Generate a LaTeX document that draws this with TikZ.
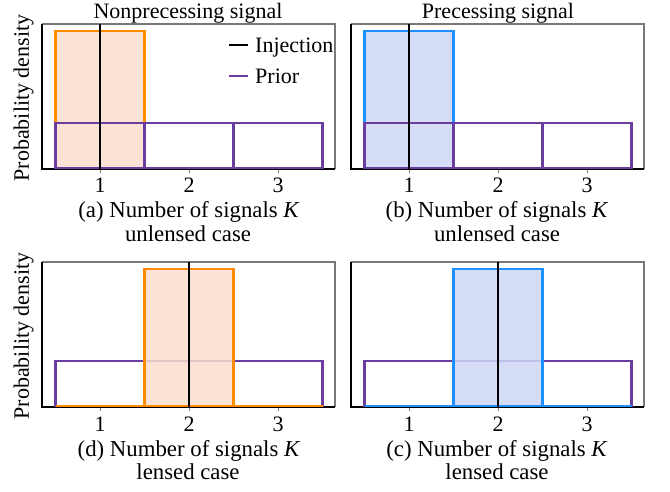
\documentclass[tikz,border=0pt]{standalone}
\usepackage{fontspec}
\setmainfont{Liberation Serif}
\newfontfamily\figfont{Liberation Serif}
\definecolor{postorange}{RGB}{255,140,0}
\definecolor{orangefill}{RGB}{249,222,204}
\definecolor{postblue}{RGB}{30,144,255}
\definecolor{bluefill}{RGB}{205,214,244}
\definecolor{priorpurple}{RGB}{106,61,160}
\definecolor{spinegray}{RGB}{120,120,120}
\tikzset{
  lbl/.style={font=\figfont\fontsize{22}{24}\selectfont, inner sep=0pt},
  captext/.style={font=\figfont\fontsize{22.8}{25}\selectfont, inner sep=0pt},
  spinedark/.style={line width=1.4pt, black},
  spinelight/.style={line width=1.4pt, spinegray},
  priorbar/.style={draw=priorpurple, line width=2.3pt},
  postO/.style={draw=postorange, line width=2.3pt},
  postOfill/.style={fill=orangefill, fill opacity=0.85, draw=none},
  postB/.style={draw=postblue, line width=2.3pt},
  postBfill/.style={fill=bluefill, fill opacity=0.85, draw=none},
  inj/.style={black, line width=2.6pt},
  tickmark/.style={spinegray, line width=1pt},
}
\newcommand\myprior{%
  \foreach \k in {1,2,3}{\draw[priorbar] ({58+(\k-1.5)*89},-1) rectangle ({58+(\k-0.5)*89},-46);}}
\newcommand\mypost[3]{% #1 fill style, #2 edge style, #3 bin
  \fill[#1] ({58+(#3-1.5)*89},-1) rectangle ({58+(#3-0.5)*89},-138);
  \draw[#2] (13.5,-1) -- (280.5,-1);
  \draw[#2] ({58+(#3-1.5)*89},-1) rectangle ({58+(#3-0.5)*89},-138);}
\newcommand\myspines{%
  \foreach \k in {1,2,3}{\draw[tickmark] ({58+(\k-1)*89},0) -- ({58+(\k-1)*89},4);}
  \draw[spinelight] (0,-145) -- (293,-145) -- (293,0);
  \draw[spinedark] (0,-145) -- (0,0) -- (293,0);}
\newcommand\myinj[1]{%
  \draw[inj] ({58+(#1-1)*89},0) -- ({58+(#1-1)*89},-145);}
\begin{document}
\begin{tikzpicture}[x=1pt,y=-1pt]
\useasboundingbox (0,0) rectangle (670,491);
% panel (a)
\begin{scope}[shift={(42,169)}]
  \myspines
  \mypost{postOfill}{postO}{1}
  \myprior
  \myinj{1}
\end{scope}
% panel (b)
\begin{scope}[shift={(351,169)}]
  \myspines
  \mypost{postBfill}{postB}{1}
  \myprior
  \myinj{1}
\end{scope}
% panel (d)
\begin{scope}[shift={(42,407)}]
  \myspines
  \myprior
  \mypost{postOfill}{postO}{2}
  \myinj{2}
\end{scope}
% panel (c)
\begin{scope}[shift={(351,407)}]
  \myspines
  \myprior
  \mypost{postBfill}{postB}{2}
  \myinj{2}
\end{scope}
% titles
\node[lbl, anchor=base] (t1) at (188,18) {Nonprecessing signal};
\node[lbl, anchor=base] (t2) at (498,18) {Precessing signal};
% y labels
\node[lbl, rotate=90, anchor=center] (ya) at (23.5,98) {Probability density};
\node[lbl, rotate=90, anchor=center] (yd) at (23.5,336) {Probability density};
% tick labels
\foreach \k in {1,2,3}{
  \node[lbl, anchor=base] (ta\k) at ({100+(\k-1)*89},192) {\k};
  \node[lbl, anchor=base] (tb\k) at ({409+(\k-1)*89},192) {\k};
  \node[lbl, anchor=base] (td\k) at ({100+(\k-1)*89},431) {\k};
  \node[lbl, anchor=base] (tc\k) at ({409+(\k-1)*89},431) {\k};
}
% captions
\node[captext, anchor=base] (ca1) at (189,217) {(a) Number of signals \textit{K}};
\node[captext, anchor=base] (ca2) at (188,241) {unlensed case};
\node[captext, anchor=base] (cb1) at (497,217) {(b) Number of signals \textit{K}};
\node[captext, anchor=base] (cb2) at (497,241) {unlensed case};
\node[captext, anchor=base] (cd1) at (189,456) {(d) Number of signals \textit{K}};
\node[captext, anchor=base] (cd2) at (188,479) {lensed case};
\node[captext, anchor=base] (cc1) at (497,456) {(c) Number of signals \textit{K}};
\node[captext, anchor=base] (cc2) at (497,479) {lensed case};
% legend
\coordinate (l1a) at (229,45); \coordinate (l1b) at (248,45);
\coordinate (l2a) at (229,76); \coordinate (l2b) at (248,76);
\draw[black, line width=2.3pt] (l1a) -- (l1b);
\draw[priorpurple, line width=2.3pt] (l2a) -- (l2b);
\node[lbl, anchor=base west] (leg1) at (255,52) {Injection};
\node[lbl, anchor=base west] (leg2) at (255,83) {Prior};
\end{tikzpicture}
\end{document}
